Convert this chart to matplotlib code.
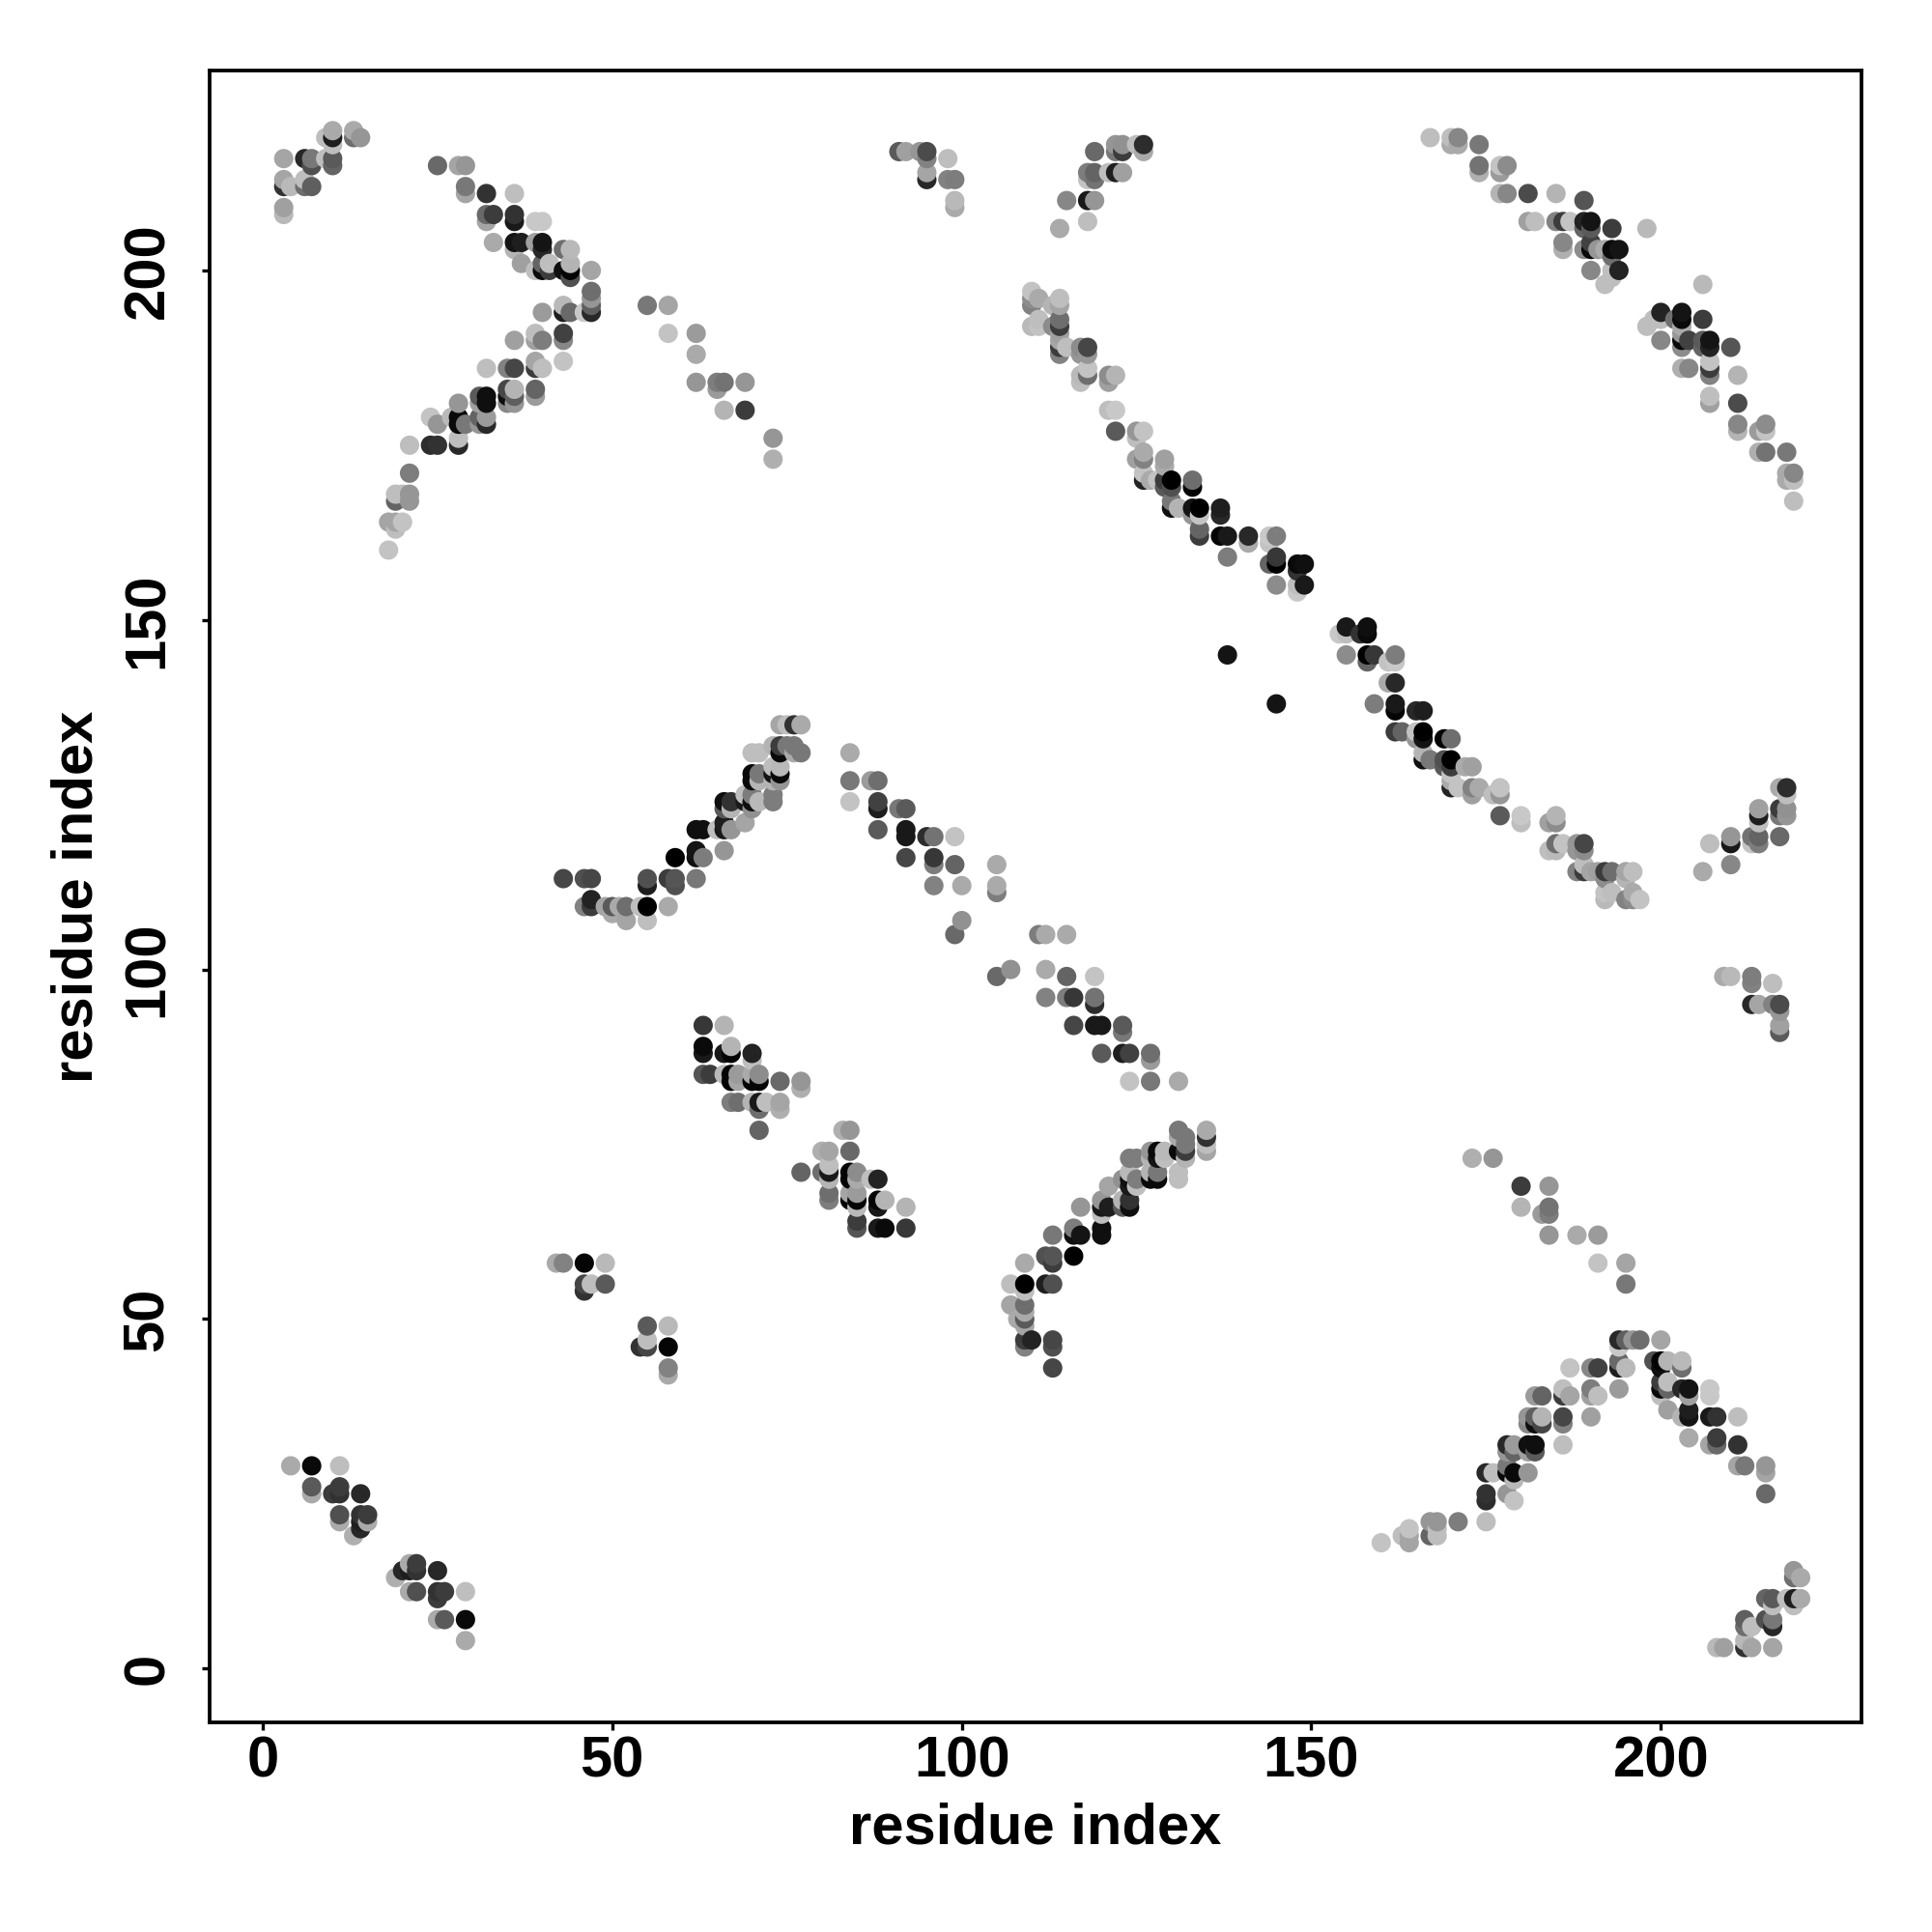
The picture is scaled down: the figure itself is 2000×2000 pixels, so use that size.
import numpy as np
import matplotlib
matplotlib.use("Agg")
import matplotlib.pyplot as plt

# (residue i, residue j, grey level) - only i<j is listed; the contact map is symmetric
near_start = [(4,29,170),(7,29,10),(7,26,90),(7,25,170),(10,25,60),(11,26,60),(11,25,50),(11,29,190),
 (11,22,80),(11,21,170),(14,25,40),(14,22,50),(15,22,60),(14,21,30),(14,20,40),(13,19,175),(15,21,170)]
short_58 = [(42,58,170),(43,58,130),(46,58,5),(47,55,190),(46,55,70),(46,54,50),(49,58,185),(49,55,90)]
corner = [(3,216,165),(3,213,165),(3,212,50),(4,212,185),(3,209,160),(3,208,185),(6,216,40),(7,216,120),(7,215,80),
 (6,213,190),(6,212,110),(7,212,95),(9,219,190),(10,219,30),(10,220,170),(10,218,190),(9,216,190),(10,216,90),
 (10,215,100),(13,220,170),(13,219,110),(14,219,150)]
upper_arm = [(25,215,105),(28,215,165),(29,215,150),(29,212,120),(29,211,165),(32,211,50),(36,211,190),(32,208,105),
 (32,207,165),(33,208,60),(36,208,50),(36,207,25),(33,204,170),(36,204,20),(37,204,30),(36,203,180),(39,207,200),
 (40,207,200),(39,204,160),(40,204,20),(40,203,40),(37,201,160),(39,200,190),(40,200,10),(40,201,100),(41,200,60),
 (41,201,190),(43,203,110),(44,203,185),(43,200,15),(44,200,5),(44,201,180),(44,199,80),(47,200,165),(47,197,110),
 (47,196,150),(47,195,95),(47,194,40),(46,194,200)]
lower_arm = [(44,194,105),(43,194,30),(43,195,185),(40,194,155),(43,191,65),(43,190,135),(39,191,190),(39,190,160),
 (40,190,125),(36,190,160),(43,187,195),(39,187,165),(39,186,60),(40,186,190),(32,186,190),(35,186,130),(36,186,70),
 (39,183,100),(39,182,155),(35,183,70),(35,182,15),(35,181,135),(36,183,180),(36,182,95),(36,181,150),(31,182,90),
 (32,182,15),(32,181,15),(31,181,160),(28,181,150),(28,179,10),(28,178,10),(27,179,185),(29,178,120),(31,179,100),
 (32,179,155),(32,178,40),(31,178,150),(24,179,195),(25,178,150),(21,175,190),(24,175,45),(25,175,50),(28,176,190),
 (28,175,40),(21,171,125),(21,168,150),(21,167,150),(19,168,190),(20,168,190),(19,167,100),(18,164,165),(19,164,165),
 (19,163,190),(20,164,195),(18,160,195)]
strand_55 = [(55,195,120),(58,195,165),(58,191,195),(62,191,155),(62,188,170),(62,184,150),(65,184,125),(65,183,155),
 (66,184,115),(69,184,150),(66,180,180),(69,180,60),(73,176,150),(73,173,175)]
curve_43 = [(43,113,70),(46,113,80),(47,113,70),(46,109,130),(47,110,35),(47,109,60),(49,109,165),(50,109,90),(50,108,170),
 (51,109,170),(52,109,110),(52,107,165),(54,109,190),(55,109,0),(55,107,190),(55,113,80),(55,112,30),(58,113,60),
 (59,113,85),(59,112,80),(58,109,170),(59,116,0),(62,113,120),(62,117,20),(62,116,15),(63,116,125),(66,117,150),
 (62,120,15),(63,120,15),(65,120,190),(66,121,30),(66,120,25),(67,120,150),(69,121,165),(66,124,15),(66,123,90),
 (67,124,50),(67,123,180),(69,125,190),(69,124,25),(70,125,125),(70,124,15),(70,123,145),(71,124,185),(73,125,125),
 (73,124,125),(70,128,10),(70,127,10),(71,128,120),(71,127,180),(73,129,190),(73,128,20),(73,127,180),(74,129,185),
 (74,128,10),(74,127,150),(70,131,190),(71,131,190),(73,132,180),(74,132,60),(74,131,10),(75,132,120),(76,132,120),
 (77,131,120),(76,131,170),(74,135,165),(75,135,190),(76,135,50),(77,135,170)]
block_63 = [(63,92,55),(66,92,180),(63,89,10),(63,88,25),(66,88,25),(67,89,180),(67,88,5),(70,88,35),(70,87,190),(63,85,85),
 (64,85,60),(66,85,185),(67,85,5),(67,84,0),(68,85,155),(68,84,165),(70,85,170),(71,85,140),(70,84,5),(71,84,5),
 (74,84,105),(77,84,150),(77,83,175),(67,81,125),(68,81,110),(70,81,180),(71,81,25),(71,80,110),(72,81,190),(74,81,165),
 (74,80,175),(71,77,100)]
block_84 = [(84,131,170),(84,127,120),(87,127,155),(88,127,110),(84,124,195),(88,124,65),(88,123,30),(91,123,120),(92,123,90),
 (88,120,90),(92,120,25),(92,119,25),(95,119,45),(96,119,115),(99,119,195),(92,116,70),(96,116,55),(96,115,125),
 (99,115,100),(105,115,170),(96,112,130),(100,112,170),(105,112,170),(105,111,125),(100,107,145),(99,105,105)]
top_91 = [(91,217,90),(92,217,160),(94,217,150),(95,217,75),(95,216,130),(95,214,165),(95,213,40),(98,216,190),(98,213,130),
 (99,213,125),(99,210,185),(99,209,170),(114,206,170),(115,210,135),(118,210,25),(119,210,150),(118,207,190),(118,213,195),
 (118,214,125),(119,213,115),(119,214,100),(121,214,190),(122,214,30),(123,214,160),(119,217,105),(122,218,150),(122,217,120),
 (123,218,145),(123,217,60),(125,218,190),(126,218,45),(126,217,170)]
long_diag = [(110,197,195),(110,196,140),(110,195,130),(111,196,170),(113,195,180),(114,196,190),(114,195,165),(110,192,185),
 (111,192,195),(111,193,190),(113,192,140),(114,193,110),(114,192,60),(114,191,160),(114,189,60),(114,188,130),(114,190,165),
 (115,189,190),(117,189,140),(118,189,70),(117,188,150),(118,188,150),(117,185,185),(118,186,195),(118,185,110),(117,184,190),
 (121,185,140),(122,185,180),(121,184,160),(121,180,190),(122,180,200),(122,177,90),(125,177,150),(126,177,195),(125,176,190),
 (126,174,170),(126,173,130),(125,173,160),(126,171,195),(126,170,35),(127,170,170),(128,170,195),(129,173,160),(129,172,170),
 (129,170,60),(130,170,0),(130,169,80),(129,169,90),(133,170,110),(133,169,5),(130,167,120),(130,166,15),(131,166,180),
 (133,166,20),(133,165,150),(134,166,0),(134,165,195),(137,166,30),(137,165,40),(134,163,100),(134,162,60),(137,162,5),
 (138,162,25),(141,162,40),(141,161,170),(144,162,200),(145,162,125),(144,161,195),(138,159,125),(144,158,100),(145,159,55),
 (145,158,0),(148,158,10),(149,158,15),(148,157,50),(145,155,140),(148,155,190),(149,155,25),(148,154,200),(138,145,20)]
top_167 = [(167,219,190),(170,219,190),(170,218,170),(171,219,135),(171,218,170),(174,218,120),(174,215,115),(174,214,175),
 (177,215,195),(177,214,155),(178,215,140),(177,211,180),(178,211,135),(181,211,75),(185,211,180),(189,210,85),(181,207,160),
 (182,207,190),(185,207,130),(186,207,60),(187,207,195),(189,207,35),(190,207,20),(189,206,100),(190,206,90),(193,206,60),
 (198,206,185),(186,204,135),(186,203,175),(189,203,140),(190,204,65),(190,203,10),(191,203,150),(192,203,170),(193,203,10),
 (194,203,20),(193,202,110),(190,200,135),(193,200,190),(194,200,35),(193,199,190),(192,198,190)]

upper = (near_start + short_58 + corner + upper_arm + lower_arm + strand_55 + curve_43 + block_63 + block_84
         + top_91 + long_diag + top_167)
tick_values = [0, 50, 100, 150, 200]
axis_title = "residue index"

arr = np.array(upper, dtype=float)
i_idx = np.concatenate([arr[:, 0], arr[:, 1]])
j_idx = np.concatenate([arr[:, 1], arr[:, 0]])
grey = np.concatenate([arr[:, 2], arr[:, 2]])
order = np.lexsort((j_idx, i_idx))

plt.rcParams['font.family'] = ['Liberation Sans', 'DejaVu Sans']
fig = plt.figure(figsize=(10, 10), dpi=200)
ax = fig.add_axes([217/2000, 1 - 1783/2000, (1927-217)/2000, (1783-73)/2000])
ax.scatter(i_idx[order], j_idx[order], c=grey[order], cmap='gray', vmin=0, vmax=255, s=52, linewidths=0, zorder=3)
ax.set_xlim(-7.6, 228.7)
ax.set_ylim(-7.7, 228.6)
ax.set_xticks(tick_values)
ax.set_yticks(tick_values)
ax.tick_params(axis='x', length=3, width=1.2, labelsize=21.5, pad=2)
ax.tick_params(axis='y', length=3, width=1.2, labelsize=21.5, pad=10)
for lab in ax.get_xticklabels():
    lab.set_fontweight('bold')
for lab in ax.get_yticklabels():
    lab.set_fontweight('bold')
    lab.set_rotation(90)
    lab.set_va('center')
for s in ax.spines.values():
    s.set_linewidth(1.35)
ax.set_xlabel(axis_title, fontsize=21.5, fontweight='bold', labelpad=5)
ax.set_ylabel(axis_title, fontsize=21.5, fontweight='bold', labelpad=6.5)
fig.savefig('out.png', dpi=200)
